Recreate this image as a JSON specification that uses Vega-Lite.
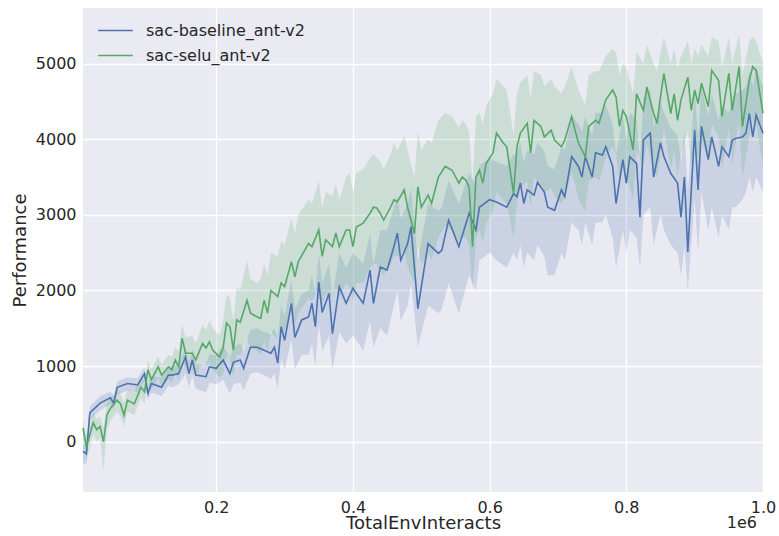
{
  "$schema": "https://vega.github.io/schema/vega-lite/v6.json",
  "width": 680,
  "height": 484,
  "autosize": "none",
  "padding": {"left": 83, "top": 8, "right": 16, "bottom": 44},
  "background": "white",
  "config": {
    "view": {"fill": "#eaeaf2", "stroke": null},
    "font": "DejaVu Sans",
    "axis": {
      "domain": false,
      "ticks": false,
      "grid": true,
      "gridColor": "white",
      "gridWidth": 1.3,
      "labelFont": "DejaVu Sans",
      "labelFontSize": 16,
      "labelColor": "#262626",
      "labelPadding": 7,
      "titleFont": "DejaVu Sans",
      "titleFontSize": 18,
      "titleFontWeight": "normal",
      "titleColor": "#262626"
    },
    "legend": {
      "labelFont": "DejaVu Sans",
      "labelFontSize": 16,
      "labelColor": "#262626"
    }
  },
  "datasets": {
    "offset": [{"label": "1e6", "steps": 1000000, "perf": -665}],
    "runs": [
      {"run": "sac-baseline_ant-v2", "steps": 5000, "perf": -130, "lo": -300, "hi": -30},
      {"run": "sac-baseline_ant-v2", "steps": 10000, "perf": -160, "lo": -280, "hi": -60},
      {"run": "sac-baseline_ant-v2", "steps": 15000, "perf": 380, "lo": 280, "hi": 470},
      {"run": "sac-baseline_ant-v2", "steps": 30000, "perf": 510, "lo": 420, "hi": 600},
      {"run": "sac-baseline_ant-v2", "steps": 45000, "perf": 580, "lo": 490, "hi": 660},
      {"run": "sac-baseline_ant-v2", "steps": 50000, "perf": 510, "lo": 420, "hi": 600},
      {"run": "sac-baseline_ant-v2", "steps": 55000, "perf": 720, "lo": 620, "hi": 800},
      {"run": "sac-baseline_ant-v2", "steps": 70000, "perf": 770, "lo": 680, "hi": 850},
      {"run": "sac-baseline_ant-v2", "steps": 85000, "perf": 750, "lo": 650, "hi": 840},
      {"run": "sac-baseline_ant-v2", "steps": 95000, "perf": 900, "lo": 800, "hi": 980},
      {"run": "sac-baseline_ant-v2", "steps": 100000, "perf": 640, "lo": 550, "hi": 740},
      {"run": "sac-baseline_ant-v2", "steps": 105000, "perf": 770, "lo": 650, "hi": 870},
      {"run": "sac-baseline_ant-v2", "steps": 120000, "perf": 720, "lo": 600, "hi": 850},
      {"run": "sac-baseline_ant-v2", "steps": 130000, "perf": 880, "lo": 740, "hi": 980},
      {"run": "sac-baseline_ant-v2", "steps": 135000, "perf": 880, "lo": 720, "hi": 1000},
      {"run": "sac-baseline_ant-v2", "steps": 145000, "perf": 900, "lo": 760, "hi": 1020},
      {"run": "sac-baseline_ant-v2", "steps": 155000, "perf": 1120, "lo": 900, "hi": 1250},
      {"run": "sac-baseline_ant-v2", "steps": 160000, "perf": 900, "lo": 720, "hi": 1050},
      {"run": "sac-baseline_ant-v2", "steps": 165000, "perf": 1080, "lo": 880, "hi": 1220},
      {"run": "sac-baseline_ant-v2", "steps": 170000, "perf": 880, "lo": 700, "hi": 1020},
      {"run": "sac-baseline_ant-v2", "steps": 185000, "perf": 860, "lo": 650, "hi": 1020},
      {"run": "sac-baseline_ant-v2", "steps": 190000, "perf": 990, "lo": 780, "hi": 1150},
      {"run": "sac-baseline_ant-v2", "steps": 200000, "perf": 970, "lo": 760, "hi": 1150},
      {"run": "sac-baseline_ant-v2", "steps": 210000, "perf": 1080, "lo": 820, "hi": 1280},
      {"run": "sac-baseline_ant-v2", "steps": 220000, "perf": 900, "lo": 640, "hi": 1100},
      {"run": "sac-baseline_ant-v2", "steps": 225000, "perf": 1050, "lo": 760, "hi": 1250},
      {"run": "sac-baseline_ant-v2", "steps": 235000, "perf": 1080, "lo": 780, "hi": 1300},
      {"run": "sac-baseline_ant-v2", "steps": 240000, "perf": 970, "lo": 680, "hi": 1200},
      {"run": "sac-baseline_ant-v2", "steps": 250000, "perf": 1250, "lo": 900, "hi": 1480},
      {"run": "sac-baseline_ant-v2", "steps": 260000, "perf": 1250, "lo": 920, "hi": 1500},
      {"run": "sac-baseline_ant-v2", "steps": 270000, "perf": 1210, "lo": 880, "hi": 1450},
      {"run": "sac-baseline_ant-v2", "steps": 280000, "perf": 1170, "lo": 830, "hi": 1420},
      {"run": "sac-baseline_ant-v2", "steps": 285000, "perf": 1250, "lo": 900, "hi": 1500},
      {"run": "sac-baseline_ant-v2", "steps": 290000, "perf": 1040, "lo": 700, "hi": 1350},
      {"run": "sac-baseline_ant-v2", "steps": 295000, "perf": 1520, "lo": 1100, "hi": 1800},
      {"run": "sac-baseline_ant-v2", "steps": 300000, "perf": 1340, "lo": 950, "hi": 1650},
      {"run": "sac-baseline_ant-v2", "steps": 310000, "perf": 1830, "lo": 1350, "hi": 2150},
      {"run": "sac-baseline_ant-v2", "steps": 315000, "perf": 1380, "lo": 950, "hi": 1750},
      {"run": "sac-baseline_ant-v2", "steps": 325000, "perf": 1610, "lo": 1150, "hi": 1950},
      {"run": "sac-baseline_ant-v2", "steps": 335000, "perf": 1650, "lo": 1150, "hi": 2000},
      {"run": "sac-baseline_ant-v2", "steps": 340000, "perf": 1830, "lo": 1300, "hi": 2200},
      {"run": "sac-baseline_ant-v2", "steps": 345000, "perf": 1520, "lo": 1000, "hi": 1950},
      {"run": "sac-baseline_ant-v2", "steps": 350000, "perf": 2110, "lo": 1550, "hi": 2500},
      {"run": "sac-baseline_ant-v2", "steps": 355000, "perf": 1710, "lo": 1200, "hi": 2100},
      {"run": "sac-baseline_ant-v2", "steps": 365000, "perf": 1960, "lo": 1400, "hi": 2350},
      {"run": "sac-baseline_ant-v2", "steps": 370000, "perf": 1430, "lo": 950, "hi": 1900},
      {"run": "sac-baseline_ant-v2", "steps": 380000, "perf": 2050, "lo": 1450, "hi": 2500},
      {"run": "sac-baseline_ant-v2", "steps": 390000, "perf": 1830, "lo": 1300, "hi": 2300},
      {"run": "sac-baseline_ant-v2", "steps": 400000, "perf": 2030, "lo": 1400, "hi": 2500},
      {"run": "sac-baseline_ant-v2", "steps": 405000, "perf": 1960, "lo": 1350, "hi": 2450},
      {"run": "sac-baseline_ant-v2", "steps": 415000, "perf": 1830, "lo": 1200, "hi": 2350},
      {"run": "sac-baseline_ant-v2", "steps": 425000, "perf": 2270, "lo": 1600, "hi": 2750},
      {"run": "sac-baseline_ant-v2", "steps": 430000, "perf": 1830, "lo": 1250, "hi": 2350},
      {"run": "sac-baseline_ant-v2", "steps": 440000, "perf": 2310, "lo": 1500, "hi": 2800},
      {"run": "sac-baseline_ant-v2", "steps": 450000, "perf": 2270, "lo": 1400, "hi": 2800},
      {"run": "sac-baseline_ant-v2", "steps": 460000, "perf": 2580, "lo": 1800, "hi": 3100},
      {"run": "sac-baseline_ant-v2", "steps": 465000, "perf": 2760, "lo": 2000, "hi": 3250},
      {"run": "sac-baseline_ant-v2", "steps": 470000, "perf": 2400, "lo": 1600, "hi": 2950},
      {"run": "sac-baseline_ant-v2", "steps": 480000, "perf": 2620, "lo": 1800, "hi": 3150},
      {"run": "sac-baseline_ant-v2", "steps": 485000, "perf": 2840, "lo": 2100, "hi": 3350},
      {"run": "sac-baseline_ant-v2", "steps": 495000, "perf": 1760, "lo": 1250, "hi": 2400},
      {"run": "sac-baseline_ant-v2", "steps": 510000, "perf": 2620, "lo": 1800, "hi": 3150},
      {"run": "sac-baseline_ant-v2", "steps": 525000, "perf": 2490, "lo": 1700, "hi": 3050},
      {"run": "sac-baseline_ant-v2", "steps": 530000, "perf": 2530, "lo": 1750, "hi": 3100},
      {"run": "sac-baseline_ant-v2", "steps": 540000, "perf": 2930, "lo": 2100, "hi": 3450},
      {"run": "sac-baseline_ant-v2", "steps": 555000, "perf": 2580, "lo": 1700, "hi": 3150},
      {"run": "sac-baseline_ant-v2", "steps": 570000, "perf": 3020, "lo": 2200, "hi": 3550},
      {"run": "sac-baseline_ant-v2", "steps": 580000, "perf": 2800, "lo": 2000, "hi": 3400},
      {"run": "sac-baseline_ant-v2", "steps": 585000, "perf": 3100, "lo": 2400, "hi": 3650},
      {"run": "sac-baseline_ant-v2", "steps": 600000, "perf": 3200, "lo": 2500, "hi": 3750},
      {"run": "sac-baseline_ant-v2", "steps": 610000, "perf": 3170, "lo": 2400, "hi": 3700},
      {"run": "sac-baseline_ant-v2", "steps": 625000, "perf": 3100, "lo": 2300, "hi": 3650},
      {"run": "sac-baseline_ant-v2", "steps": 635000, "perf": 3280, "lo": 2500, "hi": 3800},
      {"run": "sac-baseline_ant-v2", "steps": 640000, "perf": 3240, "lo": 2400, "hi": 3800},
      {"run": "sac-baseline_ant-v2", "steps": 645000, "perf": 3420, "lo": 2600, "hi": 3950},
      {"run": "sac-baseline_ant-v2", "steps": 650000, "perf": 3150, "lo": 2300, "hi": 3700},
      {"run": "sac-baseline_ant-v2", "steps": 655000, "perf": 3330, "lo": 2500, "hi": 3850},
      {"run": "sac-baseline_ant-v2", "steps": 665000, "perf": 3260, "lo": 2400, "hi": 3800},
      {"run": "sac-baseline_ant-v2", "steps": 670000, "perf": 3430, "lo": 2600, "hi": 3950},
      {"run": "sac-baseline_ant-v2", "steps": 680000, "perf": 3300, "lo": 2450, "hi": 3850},
      {"run": "sac-baseline_ant-v2", "steps": 685000, "perf": 3100, "lo": 2200, "hi": 3650},
      {"run": "sac-baseline_ant-v2", "steps": 695000, "perf": 3060, "lo": 2200, "hi": 3600},
      {"run": "sac-baseline_ant-v2", "steps": 705000, "perf": 3330, "lo": 2500, "hi": 3900},
      {"run": "sac-baseline_ant-v2", "steps": 710000, "perf": 3240, "lo": 2400, "hi": 3850},
      {"run": "sac-baseline_ant-v2", "steps": 720000, "perf": 3770, "lo": 2900, "hi": 4300},
      {"run": "sac-baseline_ant-v2", "steps": 730000, "perf": 3640, "lo": 2800, "hi": 4200},
      {"run": "sac-baseline_ant-v2", "steps": 735000, "perf": 3500, "lo": 2600, "hi": 4100},
      {"run": "sac-baseline_ant-v2", "steps": 740000, "perf": 3770, "lo": 2900, "hi": 4300},
      {"run": "sac-baseline_ant-v2", "steps": 750000, "perf": 3500, "lo": 2600, "hi": 4050},
      {"run": "sac-baseline_ant-v2", "steps": 755000, "perf": 3820, "lo": 2900, "hi": 4350},
      {"run": "sac-baseline_ant-v2", "steps": 765000, "perf": 3790, "lo": 2900, "hi": 4350},
      {"run": "sac-baseline_ant-v2", "steps": 770000, "perf": 3900, "lo": 3000, "hi": 4450},
      {"run": "sac-baseline_ant-v2", "steps": 780000, "perf": 3640, "lo": 2700, "hi": 4200},
      {"run": "sac-baseline_ant-v2", "steps": 785000, "perf": 3150, "lo": 2300, "hi": 3800},
      {"run": "sac-baseline_ant-v2", "steps": 795000, "perf": 3730, "lo": 2800, "hi": 4300},
      {"run": "sac-baseline_ant-v2", "steps": 800000, "perf": 3420, "lo": 2500, "hi": 4000},
      {"run": "sac-baseline_ant-v2", "steps": 805000, "perf": 3770, "lo": 2800, "hi": 4350},
      {"run": "sac-baseline_ant-v2", "steps": 815000, "perf": 3680, "lo": 2700, "hi": 4250},
      {"run": "sac-baseline_ant-v2", "steps": 820000, "perf": 2970, "lo": 2300, "hi": 3700},
      {"run": "sac-baseline_ant-v2", "steps": 825000, "perf": 3990, "lo": 3000, "hi": 4550},
      {"run": "sac-baseline_ant-v2", "steps": 835000, "perf": 4080, "lo": 3100, "hi": 4650},
      {"run": "sac-baseline_ant-v2", "steps": 840000, "perf": 3500, "lo": 2600, "hi": 4150},
      {"run": "sac-baseline_ant-v2", "steps": 850000, "perf": 3950, "lo": 3000, "hi": 4500},
      {"run": "sac-baseline_ant-v2", "steps": 855000, "perf": 3770, "lo": 2800, "hi": 4350},
      {"run": "sac-baseline_ant-v2", "steps": 865000, "perf": 3550, "lo": 2600, "hi": 4150},
      {"run": "sac-baseline_ant-v2", "steps": 875000, "perf": 3420, "lo": 2500, "hi": 4050},
      {"run": "sac-baseline_ant-v2", "steps": 880000, "perf": 2970, "lo": 2200, "hi": 3700},
      {"run": "sac-baseline_ant-v2", "steps": 885000, "perf": 3500, "lo": 2600, "hi": 4100},
      {"run": "sac-baseline_ant-v2", "steps": 890000, "perf": 2510, "lo": 2000, "hi": 3300},
      {"run": "sac-baseline_ant-v2", "steps": 900000, "perf": 4120, "lo": 3200, "hi": 4650},
      {"run": "sac-baseline_ant-v2", "steps": 905000, "perf": 3330, "lo": 2500, "hi": 4000},
      {"run": "sac-baseline_ant-v2", "steps": 910000, "perf": 4170, "lo": 3300, "hi": 4700},
      {"run": "sac-baseline_ant-v2", "steps": 920000, "perf": 3730, "lo": 2800, "hi": 4300},
      {"run": "sac-baseline_ant-v2", "steps": 925000, "perf": 4030, "lo": 3100, "hi": 4600},
      {"run": "sac-baseline_ant-v2", "steps": 935000, "perf": 3640, "lo": 2700, "hi": 4250},
      {"run": "sac-baseline_ant-v2", "steps": 940000, "perf": 3900, "lo": 3000, "hi": 4450},
      {"run": "sac-baseline_ant-v2", "steps": 950000, "perf": 3770, "lo": 2800, "hi": 4350},
      {"run": "sac-baseline_ant-v2", "steps": 955000, "perf": 3990, "lo": 3100, "hi": 4550},
      {"run": "sac-baseline_ant-v2", "steps": 960000, "perf": 4010, "lo": 3100, "hi": 4600},
      {"run": "sac-baseline_ant-v2", "steps": 970000, "perf": 4030, "lo": 3200, "hi": 4650},
      {"run": "sac-baseline_ant-v2", "steps": 975000, "perf": 4080, "lo": 3300, "hi": 4700},
      {"run": "sac-baseline_ant-v2", "steps": 980000, "perf": 4340, "lo": 3500, "hi": 4900},
      {"run": "sac-baseline_ant-v2", "steps": 985000, "perf": 4030, "lo": 3300, "hi": 4700},
      {"run": "sac-baseline_ant-v2", "steps": 990000, "perf": 4320, "lo": 3500, "hi": 4950},
      {"run": "sac-baseline_ant-v2", "steps": 1000000, "perf": 4080, "lo": 3300, "hi": 4700},

      {"run": "sac-selu_ant-v2", "steps": 5000, "perf": 180, "lo": 20, "hi": 300},
      {"run": "sac-selu_ant-v2", "steps": 10000, "perf": -70, "lo": -250, "hi": 80},
      {"run": "sac-selu_ant-v2", "steps": 20000, "perf": 250, "lo": 100, "hi": 380},
      {"run": "sac-selu_ant-v2", "steps": 25000, "perf": 160, "lo": 0, "hi": 300},
      {"run": "sac-selu_ant-v2", "steps": 30000, "perf": 200, "lo": 50, "hi": 330},
      {"run": "sac-selu_ant-v2", "steps": 35000, "perf": 0, "lo": -380, "hi": 180},
      {"run": "sac-selu_ant-v2", "steps": 40000, "perf": 350, "lo": 150, "hi": 500},
      {"run": "sac-selu_ant-v2", "steps": 45000, "perf": 440, "lo": 280, "hi": 580},
      {"run": "sac-selu_ant-v2", "steps": 55000, "perf": 550, "lo": 400, "hi": 680},
      {"run": "sac-selu_ant-v2", "steps": 60000, "perf": 500, "lo": 330, "hi": 640},
      {"run": "sac-selu_ant-v2", "steps": 65000, "perf": 350, "lo": 200, "hi": 500},
      {"run": "sac-selu_ant-v2", "steps": 70000, "perf": 550, "lo": 400, "hi": 700},
      {"run": "sac-selu_ant-v2", "steps": 80000, "perf": 500, "lo": 350, "hi": 650},
      {"run": "sac-selu_ant-v2", "steps": 90000, "perf": 720, "lo": 580, "hi": 860},
      {"run": "sac-selu_ant-v2", "steps": 95000, "perf": 660, "lo": 500, "hi": 800},
      {"run": "sac-selu_ant-v2", "steps": 100000, "perf": 950, "lo": 780, "hi": 1080},
      {"run": "sac-selu_ant-v2", "steps": 105000, "perf": 820, "lo": 680, "hi": 960},
      {"run": "sac-selu_ant-v2", "steps": 115000, "perf": 990, "lo": 850, "hi": 1120},
      {"run": "sac-selu_ant-v2", "steps": 120000, "perf": 880, "lo": 720, "hi": 1020},
      {"run": "sac-selu_ant-v2", "steps": 130000, "perf": 990, "lo": 830, "hi": 1150},
      {"run": "sac-selu_ant-v2", "steps": 135000, "perf": 950, "lo": 780, "hi": 1120},
      {"run": "sac-selu_ant-v2", "steps": 140000, "perf": 1080, "lo": 900, "hi": 1250},
      {"run": "sac-selu_ant-v2", "steps": 145000, "perf": 990, "lo": 820, "hi": 1200},
      {"run": "sac-selu_ant-v2", "steps": 150000, "perf": 1370, "lo": 1100, "hi": 1550},
      {"run": "sac-selu_ant-v2", "steps": 155000, "perf": 1170, "lo": 950, "hi": 1380},
      {"run": "sac-selu_ant-v2", "steps": 165000, "perf": 1170, "lo": 950, "hi": 1400},
      {"run": "sac-selu_ant-v2", "steps": 170000, "perf": 1080, "lo": 870, "hi": 1300},
      {"run": "sac-selu_ant-v2", "steps": 180000, "perf": 1300, "lo": 1050, "hi": 1550},
      {"run": "sac-selu_ant-v2", "steps": 185000, "perf": 1240, "lo": 1000, "hi": 1480},
      {"run": "sac-selu_ant-v2", "steps": 190000, "perf": 1320, "lo": 1050, "hi": 1600},
      {"run": "sac-selu_ant-v2", "steps": 195000, "perf": 1210, "lo": 950, "hi": 1500},
      {"run": "sac-selu_ant-v2", "steps": 205000, "perf": 1120, "lo": 850, "hi": 1400},
      {"run": "sac-selu_ant-v2", "steps": 210000, "perf": 1240, "lo": 900, "hi": 1600},
      {"run": "sac-selu_ant-v2", "steps": 215000, "perf": 1570, "lo": 1150, "hi": 1950},
      {"run": "sac-selu_ant-v2", "steps": 220000, "perf": 1520, "lo": 1100, "hi": 1900},
      {"run": "sac-selu_ant-v2", "steps": 225000, "perf": 1210, "lo": 850, "hi": 1600},
      {"run": "sac-selu_ant-v2", "steps": 230000, "perf": 1610, "lo": 1150, "hi": 2050},
      {"run": "sac-selu_ant-v2", "steps": 235000, "perf": 1580, "lo": 1150, "hi": 2000},
      {"run": "sac-selu_ant-v2", "steps": 245000, "perf": 1870, "lo": 1350, "hi": 2400},
      {"run": "sac-selu_ant-v2", "steps": 250000, "perf": 1700, "lo": 1250, "hi": 2150},
      {"run": "sac-selu_ant-v2", "steps": 260000, "perf": 1650, "lo": 1200, "hi": 2100},
      {"run": "sac-selu_ant-v2", "steps": 265000, "perf": 1630, "lo": 1150, "hi": 2150},
      {"run": "sac-selu_ant-v2", "steps": 270000, "perf": 1870, "lo": 1350, "hi": 2350},
      {"run": "sac-selu_ant-v2", "steps": 275000, "perf": 1700, "lo": 1200, "hi": 2200},
      {"run": "sac-selu_ant-v2", "steps": 280000, "perf": 2000, "lo": 1450, "hi": 2500},
      {"run": "sac-selu_ant-v2", "steps": 290000, "perf": 1920, "lo": 1350, "hi": 2450},
      {"run": "sac-selu_ant-v2", "steps": 295000, "perf": 2100, "lo": 1500, "hi": 2650},
      {"run": "sac-selu_ant-v2", "steps": 300000, "perf": 2050, "lo": 1450, "hi": 2600},
      {"run": "sac-selu_ant-v2", "steps": 310000, "perf": 2380, "lo": 1750, "hi": 2950},
      {"run": "sac-selu_ant-v2", "steps": 315000, "perf": 2180, "lo": 1550, "hi": 2750},
      {"run": "sac-selu_ant-v2", "steps": 320000, "perf": 2380, "lo": 1700, "hi": 3000},
      {"run": "sac-selu_ant-v2", "steps": 335000, "perf": 2620, "lo": 1900, "hi": 3200},
      {"run": "sac-selu_ant-v2", "steps": 340000, "perf": 2580, "lo": 1850, "hi": 3150},
      {"run": "sac-selu_ant-v2", "steps": 350000, "perf": 2800, "lo": 2050, "hi": 3450},
      {"run": "sac-selu_ant-v2", "steps": 355000, "perf": 2450, "lo": 1800, "hi": 3100},
      {"run": "sac-selu_ant-v2", "steps": 360000, "perf": 2670, "lo": 1950, "hi": 3300},
      {"run": "sac-selu_ant-v2", "steps": 370000, "perf": 2580, "lo": 1900, "hi": 3250},
      {"run": "sac-selu_ant-v2", "steps": 375000, "perf": 2760, "lo": 2050, "hi": 3400},
      {"run": "sac-selu_ant-v2", "steps": 380000, "perf": 2580, "lo": 1900, "hi": 3200},
      {"run": "sac-selu_ant-v2", "steps": 390000, "perf": 2800, "lo": 2100, "hi": 3500},
      {"run": "sac-selu_ant-v2", "steps": 395000, "perf": 2800, "lo": 2050, "hi": 3550},
      {"run": "sac-selu_ant-v2", "steps": 400000, "perf": 2580, "lo": 1850, "hi": 3300},
      {"run": "sac-selu_ant-v2", "steps": 405000, "perf": 2840, "lo": 2100, "hi": 3550},
      {"run": "sac-selu_ant-v2", "steps": 415000, "perf": 2890, "lo": 2100, "hi": 3600},
      {"run": "sac-selu_ant-v2", "steps": 425000, "perf": 3020, "lo": 2300, "hi": 3750},
      {"run": "sac-selu_ant-v2", "steps": 430000, "perf": 3100, "lo": 2350, "hi": 3800},
      {"run": "sac-selu_ant-v2", "steps": 435000, "perf": 3090, "lo": 2350, "hi": 3750},
      {"run": "sac-selu_ant-v2", "steps": 440000, "perf": 3020, "lo": 2250, "hi": 3700},
      {"run": "sac-selu_ant-v2", "steps": 445000, "perf": 2930, "lo": 2200, "hi": 3600},
      {"run": "sac-selu_ant-v2", "steps": 455000, "perf": 3100, "lo": 2350, "hi": 3800},
      {"run": "sac-selu_ant-v2", "steps": 460000, "perf": 3200, "lo": 2450, "hi": 3950},
      {"run": "sac-selu_ant-v2", "steps": 465000, "perf": 3170, "lo": 2450, "hi": 3850},
      {"run": "sac-selu_ant-v2", "steps": 475000, "perf": 3330, "lo": 2550, "hi": 4050},
      {"run": "sac-selu_ant-v2", "steps": 480000, "perf": 3100, "lo": 2300, "hi": 3850},
      {"run": "sac-selu_ant-v2", "steps": 490000, "perf": 2750, "lo": 2100, "hi": 3500},
      {"run": "sac-selu_ant-v2", "steps": 495000, "perf": 3370, "lo": 2600, "hi": 4100},
      {"run": "sac-selu_ant-v2", "steps": 500000, "perf": 3100, "lo": 2350, "hi": 3850},
      {"run": "sac-selu_ant-v2", "steps": 510000, "perf": 3260, "lo": 2500, "hi": 4000},
      {"run": "sac-selu_ant-v2", "steps": 515000, "perf": 3150, "lo": 2400, "hi": 3950},
      {"run": "sac-selu_ant-v2", "steps": 525000, "perf": 3500, "lo": 2700, "hi": 4250},
      {"run": "sac-selu_ant-v2", "steps": 535000, "perf": 3640, "lo": 2850, "hi": 4350},
      {"run": "sac-selu_ant-v2", "steps": 545000, "perf": 3590, "lo": 2800, "hi": 4300},
      {"run": "sac-selu_ant-v2", "steps": 555000, "perf": 3420, "lo": 2650, "hi": 4150},
      {"run": "sac-selu_ant-v2", "steps": 560000, "perf": 3500, "lo": 2700, "hi": 4250},
      {"run": "sac-selu_ant-v2", "steps": 565000, "perf": 3460, "lo": 2700, "hi": 4200},
      {"run": "sac-selu_ant-v2", "steps": 570000, "perf": 3370, "lo": 2600, "hi": 4100},
      {"run": "sac-selu_ant-v2", "steps": 575000, "perf": 2580, "lo": 2000, "hi": 3400},
      {"run": "sac-selu_ant-v2", "steps": 580000, "perf": 3500, "lo": 2700, "hi": 4300},
      {"run": "sac-selu_ant-v2", "steps": 585000, "perf": 3590, "lo": 2800, "hi": 4350},
      {"run": "sac-selu_ant-v2", "steps": 590000, "perf": 3420, "lo": 2650, "hi": 4200},
      {"run": "sac-selu_ant-v2", "steps": 595000, "perf": 3680, "lo": 2900, "hi": 4450},
      {"run": "sac-selu_ant-v2", "steps": 605000, "perf": 3820, "lo": 3050, "hi": 4600},
      {"run": "sac-selu_ant-v2", "steps": 610000, "perf": 4080, "lo": 3300, "hi": 4800},
      {"run": "sac-selu_ant-v2", "steps": 620000, "perf": 3950, "lo": 3200, "hi": 4700},
      {"run": "sac-selu_ant-v2", "steps": 625000, "perf": 3900, "lo": 3150, "hi": 4650},
      {"run": "sac-selu_ant-v2", "steps": 635000, "perf": 3280, "lo": 2700, "hi": 4050},
      {"run": "sac-selu_ant-v2", "steps": 640000, "perf": 3900, "lo": 3150, "hi": 4600},
      {"run": "sac-selu_ant-v2", "steps": 645000, "perf": 4080, "lo": 3350, "hi": 4750},
      {"run": "sac-selu_ant-v2", "steps": 655000, "perf": 4210, "lo": 3450, "hi": 4850},
      {"run": "sac-selu_ant-v2", "steps": 660000, "perf": 3820, "lo": 3100, "hi": 4550},
      {"run": "sac-selu_ant-v2", "steps": 665000, "perf": 4250, "lo": 3500, "hi": 4900},
      {"run": "sac-selu_ant-v2", "steps": 675000, "perf": 4170, "lo": 3400, "hi": 4850},
      {"run": "sac-selu_ant-v2", "steps": 680000, "perf": 4030, "lo": 3300, "hi": 4700},
      {"run": "sac-selu_ant-v2", "steps": 690000, "perf": 4120, "lo": 3350, "hi": 4800},
      {"run": "sac-selu_ant-v2", "steps": 695000, "perf": 3990, "lo": 3250, "hi": 4700},
      {"run": "sac-selu_ant-v2", "steps": 705000, "perf": 3900, "lo": 3150, "hi": 4600},
      {"run": "sac-selu_ant-v2", "steps": 710000, "perf": 3990, "lo": 3250, "hi": 4700},
      {"run": "sac-selu_ant-v2", "steps": 720000, "perf": 4300, "lo": 3550, "hi": 4950},
      {"run": "sac-selu_ant-v2", "steps": 725000, "perf": 4120, "lo": 3400, "hi": 4800},
      {"run": "sac-selu_ant-v2", "steps": 730000, "perf": 3950, "lo": 3200, "hi": 4650},
      {"run": "sac-selu_ant-v2", "steps": 740000, "perf": 3770, "lo": 3050, "hi": 4450},
      {"run": "sac-selu_ant-v2", "steps": 745000, "perf": 4170, "lo": 3450, "hi": 4850},
      {"run": "sac-selu_ant-v2", "steps": 755000, "perf": 4250, "lo": 3500, "hi": 4900},
      {"run": "sac-selu_ant-v2", "steps": 760000, "perf": 4210, "lo": 3450, "hi": 4900},
      {"run": "sac-selu_ant-v2", "steps": 770000, "perf": 4520, "lo": 3750, "hi": 5100},
      {"run": "sac-selu_ant-v2", "steps": 780000, "perf": 4650, "lo": 3900, "hi": 5200},
      {"run": "sac-selu_ant-v2", "steps": 785000, "perf": 4560, "lo": 3800, "hi": 5150},
      {"run": "sac-selu_ant-v2", "steps": 790000, "perf": 4170, "lo": 3450, "hi": 4850},
      {"run": "sac-selu_ant-v2", "steps": 795000, "perf": 4380, "lo": 3650, "hi": 5000},
      {"run": "sac-selu_ant-v2", "steps": 800000, "perf": 4300, "lo": 3550, "hi": 4950},
      {"run": "sac-selu_ant-v2", "steps": 810000, "perf": 3860, "lo": 3200, "hi": 4600},
      {"run": "sac-selu_ant-v2", "steps": 815000, "perf": 4600, "lo": 3850, "hi": 5150},
      {"run": "sac-selu_ant-v2", "steps": 825000, "perf": 4380, "lo": 3650, "hi": 5000},
      {"run": "sac-selu_ant-v2", "steps": 830000, "perf": 4690, "lo": 3950, "hi": 5250},
      {"run": "sac-selu_ant-v2", "steps": 840000, "perf": 4340, "lo": 3600, "hi": 5000},
      {"run": "sac-selu_ant-v2", "steps": 845000, "perf": 4210, "lo": 3500, "hi": 4900},
      {"run": "sac-selu_ant-v2", "steps": 850000, "perf": 4560, "lo": 3800, "hi": 5150},
      {"run": "sac-selu_ant-v2", "steps": 855000, "perf": 4870, "lo": 4150, "hi": 5350},
      {"run": "sac-selu_ant-v2", "steps": 865000, "perf": 4340, "lo": 3600, "hi": 5000},
      {"run": "sac-selu_ant-v2", "steps": 870000, "perf": 4600, "lo": 3850, "hi": 5200},
      {"run": "sac-selu_ant-v2", "steps": 875000, "perf": 4250, "lo": 3500, "hi": 4950},
      {"run": "sac-selu_ant-v2", "steps": 880000, "perf": 4520, "lo": 3800, "hi": 5100},
      {"run": "sac-selu_ant-v2", "steps": 890000, "perf": 4820, "lo": 4100, "hi": 5300},
      {"run": "sac-selu_ant-v2", "steps": 895000, "perf": 4380, "lo": 3650, "hi": 5000},
      {"run": "sac-selu_ant-v2", "steps": 900000, "perf": 4650, "lo": 3900, "hi": 5200},
      {"run": "sac-selu_ant-v2", "steps": 905000, "perf": 4470, "lo": 3750, "hi": 5100},
      {"run": "sac-selu_ant-v2", "steps": 910000, "perf": 4740, "lo": 4000, "hi": 5250},
      {"run": "sac-selu_ant-v2", "steps": 920000, "perf": 4430, "lo": 3700, "hi": 5100},
      {"run": "sac-selu_ant-v2", "steps": 925000, "perf": 4910, "lo": 4200, "hi": 5350},
      {"run": "sac-selu_ant-v2", "steps": 935000, "perf": 4780, "lo": 4050, "hi": 5300},
      {"run": "sac-selu_ant-v2", "steps": 940000, "perf": 4300, "lo": 3600, "hi": 4950},
      {"run": "sac-selu_ant-v2", "steps": 950000, "perf": 4870, "lo": 4150, "hi": 5350},
      {"run": "sac-selu_ant-v2", "steps": 955000, "perf": 4380, "lo": 3650, "hi": 5000},
      {"run": "sac-selu_ant-v2", "steps": 965000, "perf": 4960, "lo": 4250, "hi": 5400},
      {"run": "sac-selu_ant-v2", "steps": 970000, "perf": 4170, "lo": 3500, "hi": 4850},
      {"run": "sac-selu_ant-v2", "steps": 980000, "perf": 4780, "lo": 4050, "hi": 5300},
      {"run": "sac-selu_ant-v2", "steps": 985000, "perf": 4960, "lo": 4250, "hi": 5350},
      {"run": "sac-selu_ant-v2", "steps": 990000, "perf": 4910, "lo": 4200, "hi": 5300},
      {"run": "sac-selu_ant-v2", "steps": 1000000, "perf": 4340, "lo": 3650, "hi": 5000}
    ]
  },
  "data": {"name": "runs"},
  "encoding": {
    "x": {
      "field": "steps",
      "type": "quantitative",
      "scale": {"domain": [5000, 1000000], "nice": false, "zero": false},
      "axis": {
        "title": "TotalEnvInteracts",
        "values": [200000, 400000, 600000, 800000, 1000000],
        "labelExpr": "format(datum.value / 1000000, '.1f')",
        "labelFlush": false,
        "labelOverlap": false,
        "titleY": 22,
        "titleBaseline": "top"
      }
    }
  },
  "layer": [
    {
      "mark": {"type": "area", "fillOpacity": 0.2},
      "encoding": {
        "y": {
          "field": "lo",
          "type": "quantitative",
          "scale": {"domain": [-665, 5735], "nice": false, "zero": false},
          "axis": {"title": "Performance", "format": "d", "values": [0, 1000, 2000, 3000, 4000, 5000], "titlePadding": 6}
        },
        "y2": {"field": "hi"},
        "color": {
          "field": "run",
          "type": "nominal",
          "scale": {"domain": ["sac-baseline_ant-v2", "sac-selu_ant-v2"], "range": ["#4c72b0", "#55a868"]}
        }
      }
    },
    {
      "mark": {"type": "line", "strokeWidth": 1.6},
      "encoding": {
        "y": {
          "field": "perf",
          "type": "quantitative",
          "axis": {"title": "Performance", "format": "d", "values": [0, 1000, 2000, 3000, 4000, 5000], "titlePadding": 6}
        },
        "color": {
          "field": "run",
          "type": "nominal",
          "scale": {"domain": ["sac-baseline_ant-v2", "sac-selu_ant-v2"], "range": ["#4c72b0", "#55a868"]},
          "legend": {
            "title": null,
            "orient": "none",
            "legendX": 23,
            "legendY": 13,
            "symbolType": "M-2,0H2",
            "symbolSize": 300,
            "symbolStrokeWidth": 1.6,
            "symbolOpacity": 1,
            "symbolFillColor": "transparent",
            "labelOffset": 21,
            "rowPadding": 7
          }
        }
      }
    },
    {
      "data": {"name": "offset"},
      "mark": {"type": "text", "align": "right", "baseline": "top", "dx": -6, "dy": 23, "fontSize": 16, "font": "DejaVu Sans", "color": "#262626"},
      "encoding": {
        "y": {"field": "perf", "type": "quantitative"},
        "text": {"field": "label", "type": "nominal"}
      }
    }
  ]
}
